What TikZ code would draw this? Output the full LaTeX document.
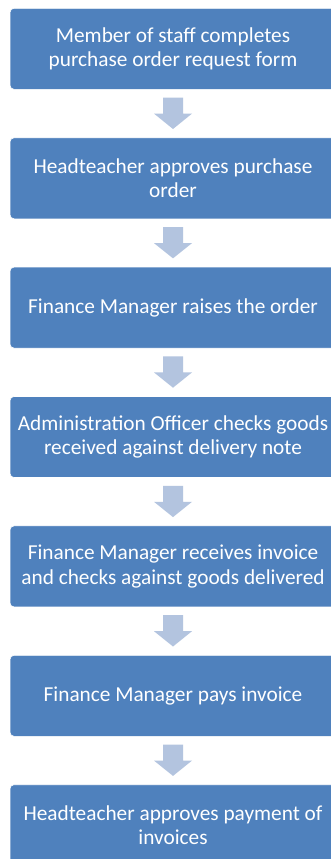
\documentclass[tikz,border=0pt]{standalone}
\usepackage{fontspec}
\setmainfont{Carlito}
\usetikzlibrary{calc}
\definecolor{boxblue}{RGB}{79,129,189}
\definecolor{arrowblue}{RGB}{179,196,223}
\begin{document}
\begin{tikzpicture}[x=1pt,y=1pt,
  stepbox/.style={draw=white,line width=0.6pt,fill=boxblue,rounded corners=4pt,
    minimum width=326pt,minimum height=81pt,text=white,align=center,
    font=\fontsize{21.3}{24.5}\selectfont,anchor=north,inner sep=0pt},
  downarrow/.style={fill=arrowblue,draw=none}]
\clip (0,0) rectangle (331,-859);
\fill[white] (0,0) rectangle (331,-859);
\node[stepbox] (b1) at (173,-8) {Member of staff completes\\purchase order request form};
\node[stepbox] (b2) at (173,-137.5) {Headteacher approves purchase\\order};
\node[stepbox] (b3) at (173,-266.8) {Finance Manager raises the order};
\node[stepbox] (b4) at (173,-396.2) {Administration Officer checks goods\\received against delivery note};
\node[stepbox] (b5) at (173,-525.6) {Finance Manager receives invoice\\and checks against goods delivered};
\node[stepbox] (b6) at (173,-655) {Finance Manager pays invoice};
\node[stepbox] (b7) at (173,-784.4) {Headteacher approves payment of\\invoices};
\foreach \a/\b in {b1/b2,b2/b3,b3/b4,b4/b5,b5/b6,b6/b7}{
  \fill[downarrow] ($(\a.south)+(-10,-8)$) -- ($(\a.south)+(10,-8)$) -- ($(\a.south)+(10,-24)$)
    -- ($(\a.south)+(19,-24)$) -- ($(\b.north)+(0,8.5)$) -- ($(\a.south)+(-19,-24)$)
    -- ($(\a.south)+(-10,-24)$) -- cycle;
}
\end{tikzpicture}
\end{document}
